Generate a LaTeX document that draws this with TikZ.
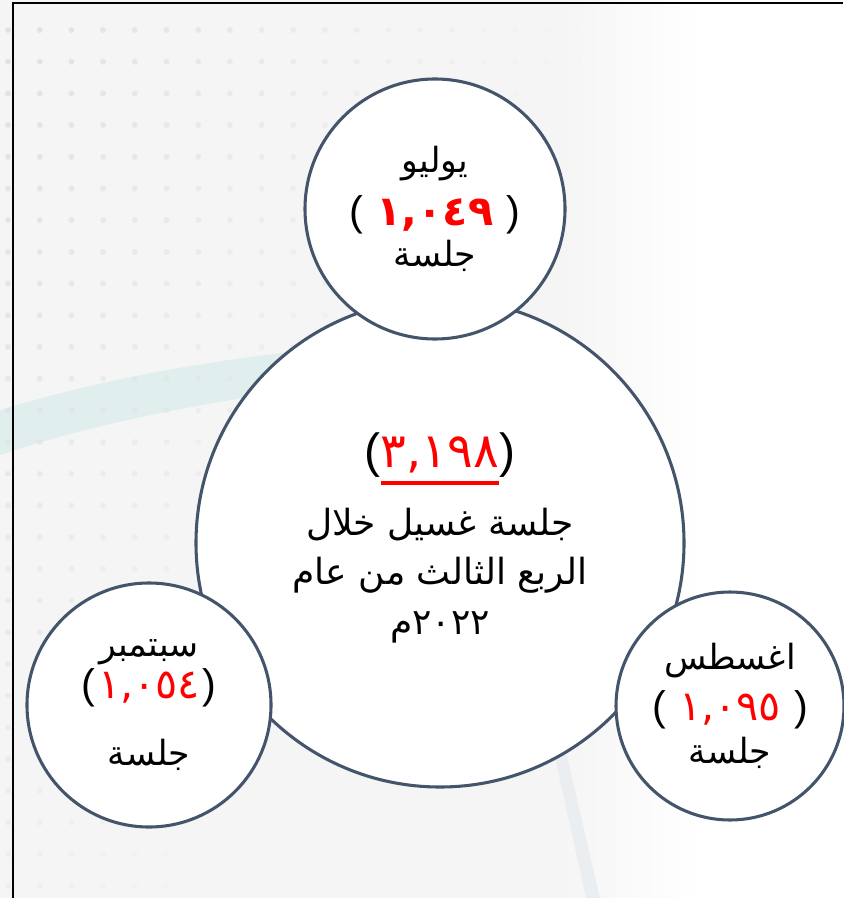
\documentclass[tikz,border=0pt]{standalone}
\usepackage{fontspec}
\TeXXeTstate=1
\newfontfamily\arabicfont[Script=Arabic]{DejaVu Sans}
\newfontfamily\parenfont{Liberation Sans}
\usetikzlibrary{positioning}
\definecolor{ringblue}{RGB}{68,84,106}
\definecolor{bggray}{RGB}{245,245,245}
\definecolor{dotgray}{RGB}{224,224,224}
\definecolor{bandteal}{RGB}{224,238,237}
\definecolor{stripegray}{RGB}{235,238,241}
\definecolor{numred}{RGB}{255,0,0}
\newcommand\artext[1]{\beginR #1\endR}
\newcommand\redline[1]{\setbox0\hbox{#1}\rlap{\color{numred}\rule[-0.36em]{\wd0}{0.07em}}\box0}
\newcommand\numsize[1]{\fontsize{#1}{#1}\selectfont}

\begin{document}
\begin{tikzpicture}[x=0.75pt, y=-0.75pt,
  bubble/.style={circle, draw=ringblue, line width=2.3pt, fill=white, align=center, inner sep=0pt,
    font=\arabicfont\fontsize{26}{34}\selectfont},
  bignum/.style={align=center, font=\arabicfont\fontsize{27}{37}\selectfont}]
\useasboundingbox (0,0) rectangle (843,898);
% background
\fill[bggray] (0,0) rectangle (560,898);
\shade[left color=bggray, right color=white] (560,0) rectangle (700,898);
\fill[stripegray] (550,735) -- (562,735) -- (600,898) -- (586,898) -- cycle;
\fill[bandteal] (0,410) .. controls (150,365) and (300,345) .. (540,332)
  -- (540,352) .. controls (300,390) and (150,405) .. (0,455) -- cycle;
\foreach \i in {0,...,18}{
  \foreach \j in {0,...,27}{
    \pgfmathsetmacro\dotop{max(0, 0.9 - \i/21 - \j/45)}
    \fill[dotgray, opacity=\dotop] (8+31.7*\i, 30+31.7*\j) circle (2.2pt);
  }
}
\draw[black, line width=1.1pt] (13,898) -- (13,3) -- (843,3);

% total for the quarter
\node[bubble, minimum size=366pt] (total) at (440,543) {};
\node[bignum] (totaltext) at ([yshift=4pt]total.center)
  {{\numsize{36}{\parenfont(}\textcolor{numred}{\redline{٣,١٩٨}}{\parenfont)}}\\[14pt]
   \artext{جلسة غسيل خلال}\\
   \artext{الربع الثالث من عام}\\
   \artext{٢٠٢٢\kern0ptم}};

% months
\node[bubble, minimum size=195pt] (july) at (435,209)
  {\artext{يوليو}\\[6pt]
   {\numsize{31}{\parenfont(} \textcolor{numred}{\bfseries ١,٠٤٩} {\parenfont)}}\\[-3pt]
   \artext{جلسة}};
\node[bubble, minimum size=183pt] (sept) at (149,705)
  {\artext{سبتمبر}\\[-2pt]
   {\numsize{31}{\parenfont(}\kern2pt\textcolor{numred}{١,٠٥٤}\kern2pt{\parenfont)}}\\[16pt]
   \artext{جلسة}};
\node[bubble, minimum size=171pt] (aug) at (730,706)
  {\artext{اغسطس}\\[4pt]
   {\numsize{31}{\parenfont(} \textcolor{numred}{١,٠٩٥} {\parenfont)}}\\[-2pt]
   \artext{جلسة}};
\end{tikzpicture}
\end{document}
